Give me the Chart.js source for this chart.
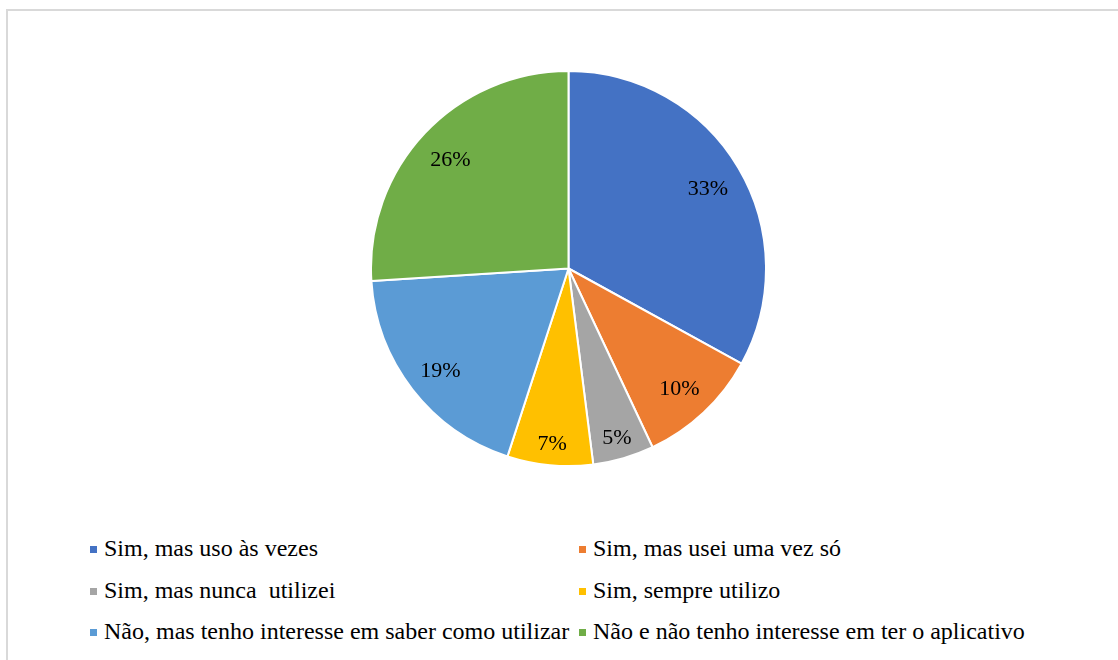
<!DOCTYPE html>
<html lang="pt">
<head>
<meta charset="utf-8">
<script src="https://cdn.jsdelivr.net/npm/chart.js@4"></script>
<style>
    body { margin: 0; background: #fff; width: 1118px; height: 660px; overflow: hidden; position: relative; }
    .moldura { position: absolute; left: 6px; top: 9px; width: 1200px; height: 700px; border: 2px solid #d9d9d9; }
    .pizza { position: absolute; left: 370px; top: 70px; width: 397px; height: 397px; }
    .legenda {
        position: absolute; left: 89px; top: 528px;
        display: grid; grid-template-columns: 489px 489px; grid-auto-rows: 41.5px;
        font-family: 'Liberation Serif', 'Times New Roman', serif; font-size: 24px; color: #000;
    }
    .legenda div { display: flex; align-items: center; white-space: pre; }
    .legenda span.cor { display: inline-block; width: 7px; height: 7px; margin: 2px 7px 0 1px; flex: none; }
</style>
</head>
<body>
<div class="moldura"></div>
<div class="pizza"><canvas id="graficoUso"></canvas></div>
<div class="legenda" id="legendaUso"></div>
<script>
const categorias = [
    'Sim, mas uso às vezes',
    'Sim, mas usei uma vez só',
    'Sim, mas nunca  utilizei',
    'Sim, sempre utilizo',
    'Não, mas tenho interesse em saber como utilizar',
    'Não e não tenho interesse em ter o aplicativo'
];
const percentuais = [33, 10, 5, 7, 19, 26];
const cores = ['#4472C4', '#ED7D31', '#A5A5A5', '#FFC000', '#5B9BD5', '#70AD47'];

// Rótulos de porcentagem dentro de cada fatia
const rotulosPizza = {
    id: 'rotulosPizza',
    afterDatasetsDraw(chart) {
        const ctx = chart.ctx;
        const meta = chart.getDatasetMeta(0);
        ctx.save();
        ctx.font = "22px 'Liberation Serif', 'Times New Roman', serif";
        ctx.fillStyle = '#000';
        ctx.textAlign = 'center';
        ctx.textBaseline = 'middle';
        meta.data.forEach(function(arc, i) {
            const p = arc.getProps(['x', 'y', 'startAngle', 'endAngle', 'outerRadius'], true);
            const meio = (p.startAngle + p.endAngle) / 2;
            const fator = (p.endAngle - p.startAngle) < 0.5 ? 0.88 : 0.82;
            const r = p.outerRadius * fator;
            ctx.fillText(percentuais[i] + '%', p.x + Math.cos(meio) * r, p.y + Math.sin(meio) * r + 3);
        });
        ctx.restore();
    }
};

const ctxUso = document.getElementById('graficoUso').getContext('2d');
new Chart(ctxUso, {
    type: 'pie',
    data: {
        labels: categorias,
        datasets: [{
            data: percentuais,
            backgroundColor: cores,
            borderColor: '#fff',
            borderWidth: 2
        }]
    },
    options: {
        responsive: true,
        maintainAspectRatio: false,
        animation: false,
        plugins: {
            legend: { display: false },
            tooltip: { enabled: false }
        }
    },
    plugins: [rotulosPizza]
});

// Legenda em duas colunas
const legenda = document.getElementById('legendaUso');
categorias.forEach(function(nome, i) {
    const item = document.createElement('div');
    const cor = document.createElement('span');
    cor.className = 'cor';
    cor.style.background = cores[i];
    item.appendChild(cor);
    item.appendChild(document.createTextNode(nome));
    legenda.appendChild(item);
});
</script>
</body>
</html>
